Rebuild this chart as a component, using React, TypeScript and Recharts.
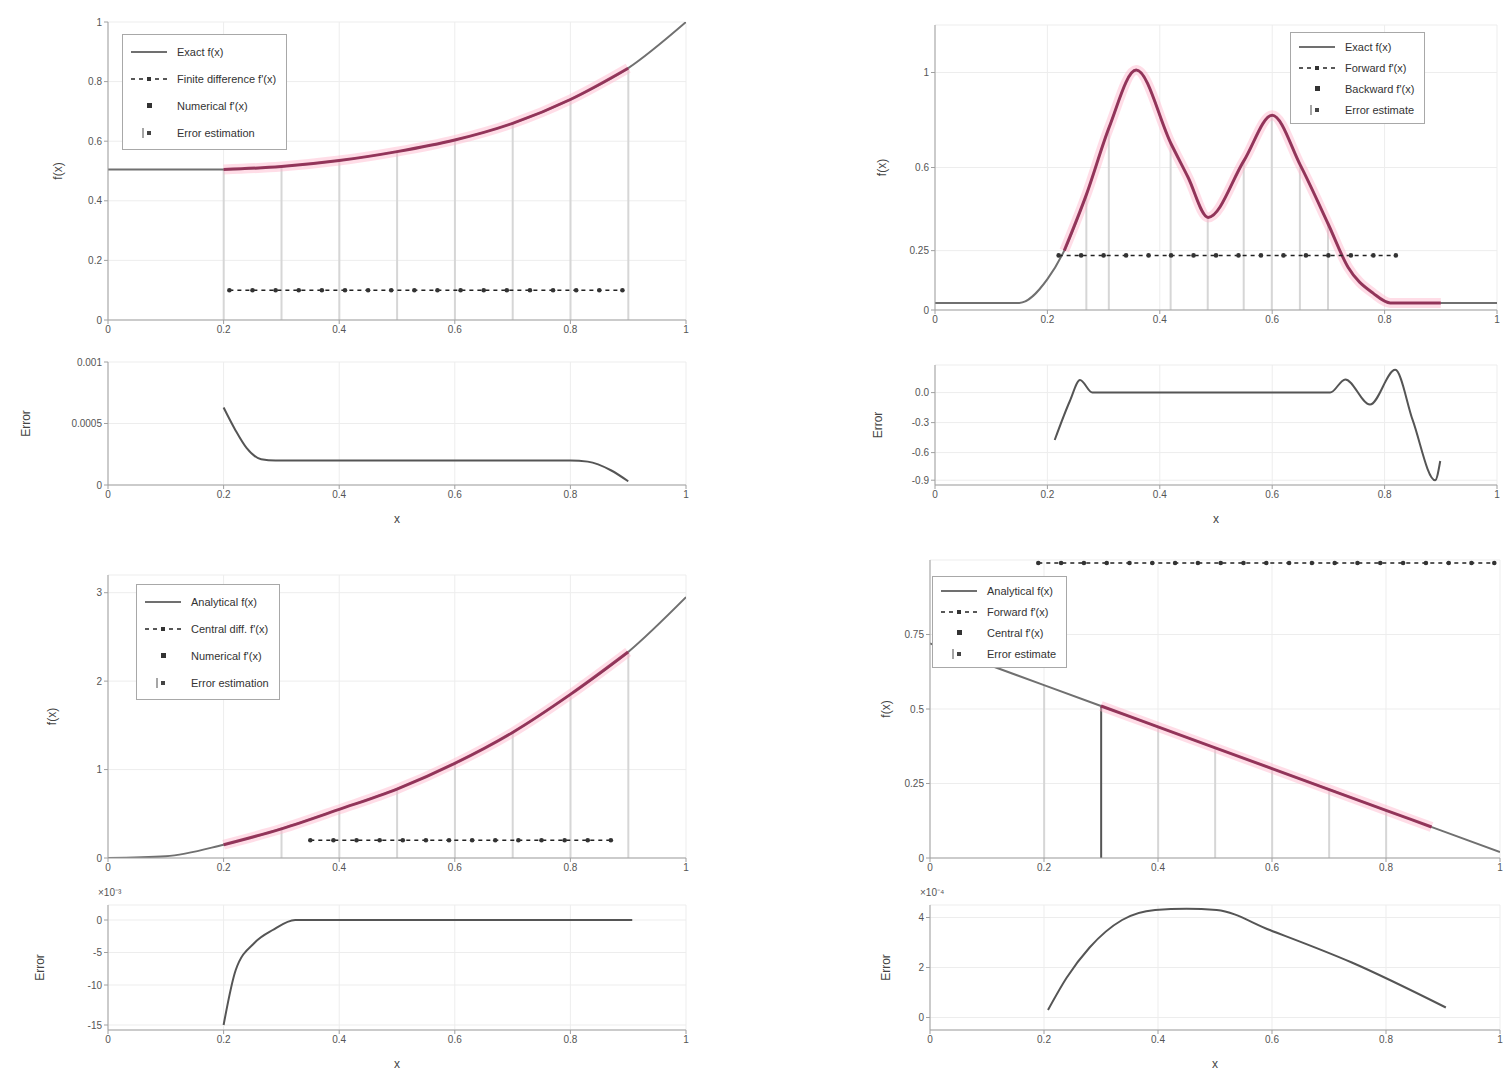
import React from 'react';
import { ComposedChart, Line, Bar, Cell, XAxis, YAxis, CartesianGrid } from 'recharts';

const FONT = '"Liberation Sans", Arial, sans-serif';
const GRAY = '#707070';
const RED = '#8e2a52';
const PINK = '#ffb3c9';
const STEM = '#d6d6d6';
const GRID = '#ededed';
const FRAME = '#a0a0a0';
const ERRC = '#555555';

const X_TICKS = [0, 0.2, 0.4, 0.6, 0.8, 1];

// ---------- Panel A (top-left) ----------
const aX = [0, 0.1, 0.2, 0.3, 0.4, 0.5, 0.6, 0.7, 0.8, 0.9, 1.0];
const aF = [0.505, 0.505, 0.505, 0.515, 0.535, 0.565, 0.604, 0.66, 0.74, 0.845, 1.0];
const aRedX = [0.2, 0.3, 0.4, 0.5, 0.6, 0.7, 0.8, 0.9];
const aRed = [0.505, 0.515, 0.535, 0.565, 0.604, 0.66, 0.74, 0.845];
const aDX = [0.21, 0.25, 0.29, 0.33, 0.37, 0.41, 0.45, 0.49, 0.53, 0.57, 0.61, 0.65, 0.69, 0.73, 0.77, 0.81, 0.85, 0.89];
const aD = [0.1, 0.1, 0.1, 0.1, 0.1, 0.1, 0.1, 0.1, 0.1, 0.1, 0.1, 0.1, 0.1, 0.1, 0.1, 0.1, 0.1, 0.1];
const aSX = [0.2, 0.3, 0.4, 0.5, 0.6, 0.7, 0.8, 0.9];
const aS = [0.505, 0.515, 0.535, 0.565, 0.604, 0.66, 0.74, 0.845];
const aY_TICKS = [0, 0.2, 0.4, 0.6, 0.8, 1];
const aEX = [0.2, 0.22, 0.24, 0.265, 0.29, 0.4, 0.5, 0.6, 0.7, 0.8, 0.83, 0.87, 0.9];
const aE = [0.63, 0.45, 0.3, 0.21, 0.2, 0.2, 0.2, 0.2, 0.2, 0.2, 0.19, 0.12, 0.03];
const aE_TICKS = [0, 0.5, 1];
const aE_LABELS = ['0', '0.0005', '0.001'];

// ---------- Panel B (top-right) ----------
const bX = [0, 0.1, 0.15, 0.2, 0.23, 0.27, 0.31, 0.358, 0.42, 0.45, 0.486, 0.55, 0.6, 0.65, 0.7, 0.735, 0.78, 0.81, 0.9, 1.0];
const bF = [0.03, 0.03, 0.03, 0.13, 0.25, 0.49, 0.77, 1.01, 0.7, 0.56, 0.39, 0.63, 0.82, 0.61, 0.36, 0.18, 0.07, 0.03, 0.03, 0.03];
const bRedX = [0.23, 0.27, 0.31, 0.358, 0.42, 0.45, 0.486, 0.55, 0.6, 0.65, 0.7, 0.735, 0.78, 0.81, 0.9];
const bRed = [0.25, 0.49, 0.77, 1.01, 0.7, 0.56, 0.39, 0.63, 0.82, 0.61, 0.36, 0.18, 0.07, 0.03, 0.03];
const bDX = [0.22, 0.26, 0.3, 0.34, 0.38, 0.42, 0.46, 0.5, 0.54, 0.58, 0.62, 0.66, 0.7, 0.74, 0.78, 0.82];
const bD = [0.23, 0.23, 0.23, 0.23, 0.23, 0.23, 0.23, 0.23, 0.23, 0.23, 0.23, 0.23, 0.23, 0.23, 0.23, 0.23];
const bSX = [0.27, 0.31, 0.42, 0.486, 0.55, 0.6, 0.65, 0.7];
const bS = [0.49, 0.77, 0.7, 0.39, 0.63, 0.82, 0.61, 0.36];
const bY_TICKS = [0, 0.25, 0.6, 1];
const bEX = [0.213, 0.24, 0.258, 0.28, 0.4, 0.5, 0.6, 0.703, 0.73, 0.774, 0.819, 0.85, 0.89, 0.899];
const bE = [0.375, 0.7, 0.875, 0.77, 0.77, 0.77, 0.77, 0.77, 0.88, 0.67, 0.96, 0.54, 0.04, 0.2];
const bE_TICKS = [0.04, 0.27, 0.52, 0.77];
const bE_LABELS = ['-0.9', '-0.6', '-0.3', '0.0'];

// ---------- Panel C (bottom-left) ----------
const cX = [0, 0.1, 0.2, 0.3, 0.4, 0.5, 0.6, 0.7, 0.8, 0.9, 1.0];
const cF = [0.0, 0.02, 0.15, 0.33, 0.55, 0.78, 1.07, 1.42, 1.85, 2.33, 2.95];
const cRedX = [0.2, 0.3, 0.4, 0.5, 0.6, 0.7, 0.8, 0.9];
const cRed = [0.15, 0.33, 0.55, 0.78, 1.07, 1.42, 1.85, 2.33];
const cDX = [0.35, 0.39, 0.43, 0.47, 0.51, 0.55, 0.59, 0.63, 0.67, 0.71, 0.75, 0.79, 0.83, 0.87];
const cD = [0.2, 0.2, 0.2, 0.2, 0.2, 0.2, 0.2, 0.2, 0.2, 0.2, 0.2, 0.2, 0.2, 0.2];
const cSX = [0.3, 0.4, 0.5, 0.6, 0.7, 0.8, 0.9];
const cS = [0.33, 0.55, 0.78, 1.07, 1.42, 1.85, 2.33];
const cY_TICKS = [0, 1, 2, 3];
const cEX = [0.2, 0.221, 0.254, 0.285, 0.324, 0.4, 0.5, 0.6, 0.7, 0.8, 0.907];
const cE = [0.04, 0.48, 0.7, 0.8, 0.88, 0.88, 0.88, 0.88, 0.88, 0.88, 0.88];
const cE_TICKS = [0.04, 0.36, 0.62, 0.88];
const cE_LABELS = ['-15', '-10', '-5', '0'];

// ---------- Panel D (bottom-right) ----------
const dX = [0, 0.2, 0.4, 0.6, 0.8, 1.0];
const dF = [0.72, 0.58, 0.44, 0.3, 0.16, 0.02];
const dRedX = [0.3, 0.4, 0.6, 0.8, 0.88];
const dRed = [0.51, 0.44, 0.3, 0.16, 0.104];
const dDX = [0.19, 0.23, 0.27, 0.31, 0.35, 0.39, 0.43, 0.47, 0.51, 0.55, 0.59, 0.63, 0.67, 0.71, 0.75, 0.79, 0.83, 0.87, 0.91, 0.95, 0.99];
const dD = [0.99, 0.99, 0.99, 0.99, 0.99, 0.99, 0.99, 0.99, 0.99, 0.99, 0.99, 0.99, 0.99, 0.99, 0.99, 0.99, 0.99, 0.99, 0.99, 0.99, 0.99];
const dSX = [0.2, 0.3, 0.4, 0.5, 0.6, 0.7, 0.8];
const dS = [0.58, 0.51, 0.44, 0.37, 0.3, 0.23, 0.16];
const dY_TICKS = [0, 0.25, 0.5, 0.75];
const dEX = [0.207, 0.24, 0.28, 0.337, 0.395, 0.45, 0.503, 0.596, 0.74, 0.905];
const dE = [0.16, 0.42, 0.66, 0.88, 0.96, 0.97, 0.96, 0.8, 0.54, 0.18];
const dE_TICKS = [0.1, 0.5, 0.9];
const dE_LABELS = ['0', '2', '4'];

type S = { key: string; xs: number[]; ys: number[] };
type Row = { [k: string]: number };

function merge(series: S[]): Row[] {
  const map = new Map<number, Row>();
  series.forEach((s) => {
    s.xs.forEach((x, i) => {
      const k = Math.round(x * 10000) / 10000;
      if (!map.has(k)) map.set(k, { x: k });
      (map.get(k) as Row)[s.key] = s.ys[i];
    });
  });
  return Array.from(map.values()).sort((a, b) => a.x - b.x);
}

const fmtX = (v: number) => (v === 0 ? '0' : v === 1 ? '1' : String(v));
const tickStyle = { fontSize: 10, fill: '#555', fontFamily: FONT };

interface ChartCfg {
  left: number; top: number; width: number; height: number;
  margin: { top: number; right: number; bottom: number; left: number };
  yWidth: number;
  yDomain: [number, number];
  yTicks: number[];
  yLabels?: string[];
  yLabel?: string;
  yLabelOffset?: number;
  xLabel?: string;
  rows: Row[];
  main: boolean;
  darkStem?: number;
  corner?: string;
}

function Chart(cfg: ChartCfg) {
  const yFmt = (v: number) => {
    if (cfg.yLabels) {
      const i = cfg.yTicks.indexOf(v);
      return i >= 0 ? cfg.yLabels[i] : '';
    }
    return String(v);
  };
  const stemRows = cfg.rows;
  return (
    <div style={{ position: 'absolute', left: cfg.left, top: cfg.top }}>
      <ComposedChart width={cfg.width} height={cfg.height} data={cfg.rows} margin={cfg.margin}>
        <CartesianGrid stroke={GRID} />
        <XAxis
          dataKey="x" type="number" domain={[0, 1]} ticks={X_TICKS} allowDataOverflow
          tickFormatter={fmtX} tick={tickStyle} height={25} tickSize={4}
          axisLine={{ stroke: FRAME }} tickLine={{ stroke: FRAME }}
          label={cfg.xLabel ? { value: cfg.xLabel, position: 'bottom', offset: 4, style: { fontSize: 12, fill: '#444', fontFamily: FONT } } : undefined}
        />
        <XAxis xAxisId="top" orientation="top" type="number" domain={[0, 1]} ticks={X_TICKS} height={0}
          tick={false} axisLine={{ stroke: FRAME }} tickLine={false} />
        <YAxis
          type="number" domain={cfg.yDomain} ticks={cfg.yTicks} allowDataOverflow interval={0}
          tickFormatter={yFmt} tick={tickStyle} width={cfg.yWidth} tickSize={4}
          axisLine={{ stroke: FRAME }} tickLine={{ stroke: FRAME }}
          label={cfg.yLabel ? { value: cfg.yLabel, angle: -90, position: 'insideLeft', offset: cfg.yLabelOffset ?? 40, style: { fontSize: 12, fill: '#444', fontFamily: FONT, textAnchor: 'middle' } } : undefined}
        />
        <YAxis yAxisId="right" orientation="right" type="number" domain={cfg.yDomain} width={0}
          tick={false} axisLine={{ stroke: FRAME }} tickLine={false} />
        {cfg.main && (
          <Bar dataKey="stem" barSize={2} fill={STEM} isAnimationActive={false}>
            {stemRows.map((r, i) => (
              <Cell key={i} fill={cfg.darkStem !== undefined && r.x === cfg.darkStem ? '#555' : STEM} />
            ))}
          </Bar>
        )}
        {cfg.main && (
          <Line dataKey="f" type="monotone" stroke={GRAY} strokeWidth={2} dot={false} connectNulls isAnimationActive={false} />
        )}
        {cfg.main && (
          <Line dataKey="red" type="monotone" stroke={PINK} strokeOpacity={0.45} strokeWidth={10} dot={false} connectNulls isAnimationActive={false} />
        )}
        {cfg.main && (
          <Line dataKey="red" type="monotone" stroke={RED} strokeOpacity={0.9} strokeWidth={3} dot={false} connectNulls isAnimationActive={false} />
        )}
        {cfg.main && (
          <Line dataKey="fd" type="linear" stroke="#222" strokeWidth={1.5} strokeDasharray="4 4" connectNulls
            dot={{ r: 2.3, fill: '#333', stroke: 'none' }} isAnimationActive={false} />
        )}
        {!cfg.main && (
          <Line dataKey="e" type="monotone" stroke={ERRC} strokeWidth={2} dot={false} connectNulls isAnimationActive={false} />
        )}
      </ComposedChart>
      {cfg.corner && (
        <div style={{ position: 'absolute', left: cfg.yWidth - 10, top: cfg.margin.top - 20, fontSize: 10, color: '#555', fontFamily: FONT }}>
          {cfg.corner}
        </div>
      )}
    </div>
  );
}

type Kind = 'solid' | 'dotted' | 'marker' | 'stem';
interface LegItem { label: string; kind: Kind }

function Icon({ kind }: { kind: Kind }) {
  return (
    <svg width={40} height={12} style={{ marginRight: 8, flex: 'none' }}>
      {kind === 'solid' && <line x1={2} y1={6} x2={38} y2={6} stroke={GRAY} strokeWidth={2} />}
      {kind === 'dotted' && (
        <g>
          <line x1={2} y1={6} x2={38} y2={6} stroke="#222" strokeWidth={1.5} strokeDasharray="4 4" />
          <rect x={18} y={4} width={4} height={4} fill="#333" />
        </g>
      )}
      {kind === 'marker' && <rect x={18} y={3} width={5} height={5} fill="#333" />}
      {kind === 'stem' && (
        <g>
          <line x1={14} y1={1} x2={14} y2={11} stroke="#888" strokeWidth={1.5} />
          <rect x={18} y={4} width={4} height={4} fill="#444" />
        </g>
      )}
    </svg>
  );
}

function LegendBox({ left, top, items, rowH }: { left: number; top: number; items: LegItem[]; rowH: number }) {
  return (
    <div style={{
      position: 'absolute', left, top, background: '#fff', border: '1px solid #a8a8a8',
      padding: '3px 10px 3px 6px', fontFamily: FONT, fontSize: 11, color: '#333',
    }}>
      {items.map((it, i) => (
        <div key={i} style={{ display: 'flex', alignItems: 'center', height: rowH }}>
          <Icon kind={it.kind} />
          <span>{it.label}</span>
        </div>
      ))}
    </div>
  );
}

const legA: LegItem[] = [
  { label: 'Exact f(x)', kind: 'solid' },
  { label: "Finite difference f'(x)", kind: 'dotted' },
  { label: "Numerical f'(x)", kind: 'marker' },
  { label: 'Error estimation', kind: 'stem' },
];
const legB: LegItem[] = [
  { label: 'Exact f(x)', kind: 'solid' },
  { label: "Forward f'(x)", kind: 'dotted' },
  { label: "Backward f'(x)", kind: 'marker' },
  { label: 'Error estimate', kind: 'stem' },
];
const legC: LegItem[] = [
  { label: 'Analytical f(x)', kind: 'solid' },
  { label: "Central diff. f'(x)", kind: 'dotted' },
  { label: "Numerical f'(x)", kind: 'marker' },
  { label: 'Error estimation', kind: 'stem' },
];
const legD: LegItem[] = [
  { label: 'Analytical f(x)', kind: 'solid' },
  { label: "Forward f'(x)", kind: 'dotted' },
  { label: "Central f'(x)", kind: 'marker' },
  { label: 'Error estimate', kind: 'stem' },
];

const rowsA = merge([
  { key: 'f', xs: aX, ys: aF }, { key: 'red', xs: aRedX, ys: aRed },
  { key: 'fd', xs: aDX, ys: aD }, { key: 'stem', xs: aSX, ys: aS },
]);
const rowsAE = merge([{ key: 'e', xs: aEX, ys: aE }]);
const rowsB = merge([
  { key: 'f', xs: bX, ys: bF }, { key: 'red', xs: bRedX, ys: bRed },
  { key: 'fd', xs: bDX, ys: bD }, { key: 'stem', xs: bSX, ys: bS },
]);
const rowsBE = merge([{ key: 'e', xs: bEX, ys: bE }]);
const rowsC = merge([
  { key: 'f', xs: cX, ys: cF }, { key: 'red', xs: cRedX, ys: cRed },
  { key: 'fd', xs: cDX, ys: cD }, { key: 'stem', xs: cSX, ys: cS },
]);
const rowsCE = merge([{ key: 'e', xs: cEX, ys: cE }]);
const rowsD = merge([
  { key: 'f', xs: dX, ys: dF }, { key: 'red', xs: dRedX, ys: dRed },
  { key: 'fd', xs: dDX, ys: dD }, { key: 'stem', xs: dSX, ys: dS },
]);
const rowsDE = merge([{ key: 'e', xs: dEX, ys: dE }]);

export default function App() {
  return (
    <div style={{ position: 'absolute', left: 0, top: 0, width: 1503, height: 1076, background: '#fff', overflow: 'hidden' }}>
      {/* Top-left */}
      <Chart left={0} top={0} width={700} height={350} margin={{ top: 22, right: 14, bottom: 5, left: 0 }}
        yWidth={108} yDomain={[0, 1]} yTicks={aY_TICKS} yLabel="f(x)" yLabelOffset={58} rows={rowsA} main />
      <Chart left={0} top={340} width={700} height={215} margin={{ top: 22, right: 14, bottom: 45, left: 0 }}
        yWidth={108} yDomain={[0, 1]} yTicks={aE_TICKS} yLabels={aE_LABELS} yLabel="Error" yLabelOffset={26}
        xLabel="x" rows={rowsAE} main={false} />
      <LegendBox left={122} top={34} items={legA} rowH={27} />

      {/* Top-right */}
      <Chart left={860} top={0} width={643} height={340} margin={{ top: 25, right: 6, bottom: 5, left: 0 }}
        yWidth={75} yDomain={[0, 1.2]} yTicks={bY_TICKS} yLabel="f(x)" yLabelOffset={22} rows={rowsB} main />
      <Chart left={860} top={340} width={643} height={215} margin={{ top: 25, right: 6, bottom: 45, left: 0 }}
        yWidth={75} yDomain={[0, 1]} yTicks={bE_TICKS} yLabels={bE_LABELS} yLabel="Error" yLabelOffset={18}
        xLabel="x" rows={rowsBE} main={false} />
      <LegendBox left={1290} top={32} items={legB} rowH={21} />

      {/* Bottom-left */}
      <Chart left={0} top={550} width={700} height={338} margin={{ top: 25, right: 14, bottom: 5, left: 0 }}
        yWidth={108} yDomain={[0, 3.2]} yTicks={cY_TICKS} yLabel="f(x)" yLabelOffset={52} rows={rowsC} main />
      <Chart left={0} top={880} width={700} height={196} margin={{ top: 25, right: 14, bottom: 21, left: 0 }}
        yWidth={108} yDomain={[0, 1]} yTicks={cE_TICKS} yLabels={cE_LABELS} yLabel="Error" yLabelOffset={40}
        xLabel="x" rows={rowsCE} main={false} corner="×10⁻³" />
      <LegendBox left={136} top={584} items={legC} rowH={27} />

      {/* Bottom-right */}
      <Chart left={860} top={540} width={643} height={348} margin={{ top: 20, right: 3, bottom: 5, left: 0 }}
        yWidth={70} yDomain={[0, 1]} yTicks={dY_TICKS} yLabel="f(x)" yLabelOffset={26} rows={rowsD} main darkStem={0.3} />
      <Chart left={860} top={880} width={643} height={196} margin={{ top: 25, right: 3, bottom: 21, left: 0 }}
        yWidth={70} yDomain={[0, 1]} yTicks={dE_TICKS} yLabels={dE_LABELS} yLabel="Error" yLabelOffset={26}
        xLabel="x" rows={rowsDE} main={false} corner="×10⁻⁴" />
      <LegendBox left={932} top={576} items={legD} rowH={21} />
    </div>
  );
}
